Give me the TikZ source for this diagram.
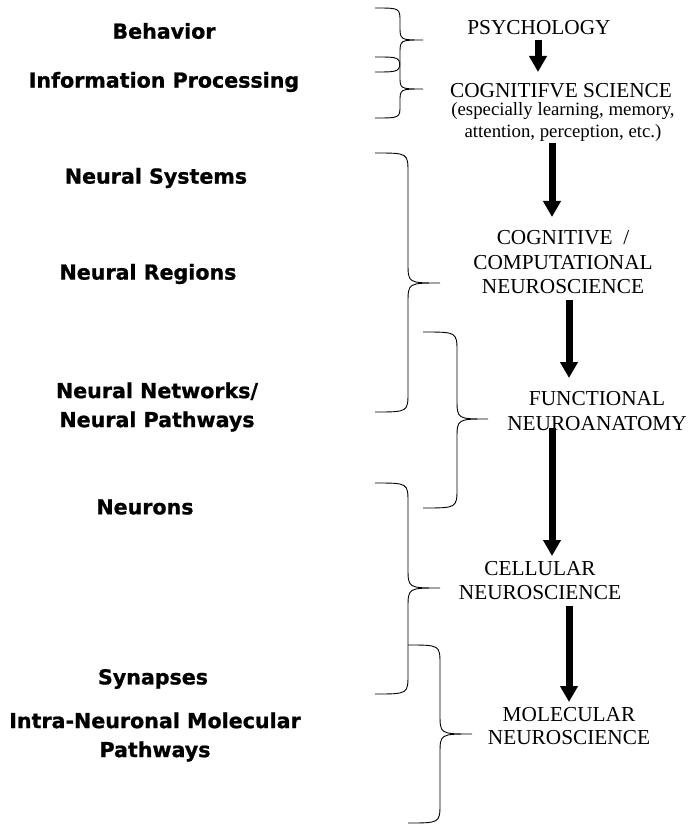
\documentclass[tikz,border=0pt]{standalone}
\usepackage{fontspec}
\setmainfont{Liberation Serif}
\newfontfamily\levelfont{DejaVu Sans}[BoldFeatures={FakeBold=1}]
\usetikzlibrary{arrows.meta}
\begin{document}
\begin{tikzpicture}[x=1pt,y=-1pt,
	level/.style={font=\levelfont\bfseries\fontsize{20.6}{29}\selectfont,align=center,inner sep=0pt},
	field/.style={font=\fontsize{21.3}{24.5}\selectfont,align=center,inner sep=0pt},
	flow/.style={line width=7pt,-{Triangle[width=17pt,length=16pt]}},
	brace/.style={line width=0.9pt}]
\useasboundingbox (0,0) rectangle (690,826);
\node[level] (behav) at (164,31) {Behavior};
\node[level] (infoproc) at (164,82) {Information Processing};
\node[level] (nsys) at (156,178) {Neural Systems};
\node[level] (nreg) at (148,274) {Neural Regions};
\node[level] (nnet) at (157,407) {Neural Networks/\\Neural Pathways};
\node[level] (neurons) at (145,507) {Neurons};
\node[level] (syn) at (153,679) {Synapses};
\node[level] (intramol) at (155,737) {Intra-Neuronal Molecular\\Pathways};
\node[field] (psych) at (539,28) {PSYCHOLOGY};
\node[field] (cogsci) at (561,91) {COGNITIFVE SCIENCE};
\node[field,font=\fontsize{18.8}{21.5}\selectfont] (cogsub) at (563,122) {(especially learning, memory,\\attention, perception, etc.)};
\node[field] (compneuro) at (563,262.5) {COGNITIVE\ \ /\\COMPUTATIONAL\\NEUROSCIENCE};
\node[field] (funcanat) at (597,411) {FUNCTIONAL\\NEUROANATOMY};
\node[field] (cellneuro) at (540,580.5) {CELLULAR\\NEUROSCIENCE};
\node[field,font=\fontsize{21.3}{23}\selectfont] (molneuro) at (569,726) {MOLECULAR\\NEUROSCIENCE};
\foreach \xa/\xb/\xc/\ya/\ym/\yb/\r in {375/400/423/8/40/72/14,375/400/423/57/89/118/13,
	375/408/440/153/283/412/20,423/457/488/332/419/508/20,
	375/408/440/483/588/694/20,408/440/472/645/734/823/20}{
	\draw[brace] (\xa,\ya) .. controls (\xb,\ya) .. (\xb,\ya+\r) -- (\xb,\ym-\r)
		.. controls (\xb,\ym) .. (\xc,\ym) .. controls (\xb,\ym) .. (\xb,\ym+\r)
		-- (\xb,\yb-\r) .. controls (\xb,\yb) .. (\xa,\yb);}
\coordinate (psych-out) at (538,40);
\coordinate (cogsci-in) at (538,72);
\coordinate (cogsub-out) at (552,143);
\coordinate (compneuro-in) at (552,217);
\coordinate (compneuro-out) at (569,300);
\coordinate (funcanat-in) at (569,378);
\coordinate (funcanat-out) at (552,428);
\coordinate (cellneuro-in) at (552,556);
\coordinate (cellneuro-out) at (569,606);
\coordinate (molneuro-in) at (569,702);
\draw[flow] (psych-out) -- (cogsci-in);
\draw[flow] (cogsub-out) -- (compneuro-in);
\draw[flow] (compneuro-out) -- (funcanat-in);
\draw[flow] (funcanat-out) -- (cellneuro-in);
\draw[flow] (cellneuro-out) -- (molneuro-in);
\end{tikzpicture}
\end{document}
